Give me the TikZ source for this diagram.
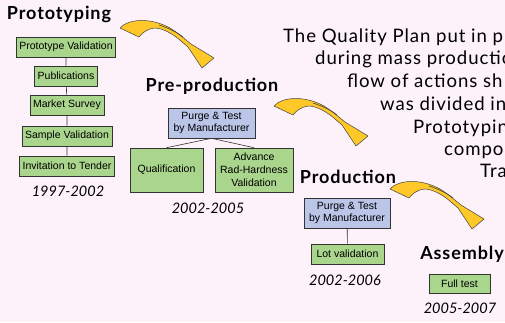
\documentclass[tikz,border=0pt]{standalone}
\usepackage{fontspec}
\setmainfont{Lato}
\newfontfamily\boxfont{Liberation Sans}
\newfontfamily\headfont[LetterSpace=5]{Lato}
\newfontfamily\notefont[LetterSpace=5]{Lato}
\usetikzlibrary{positioning}
\definecolor{pagecol}{RGB}{253,242,250}
\definecolor{stagecol}{RGB}{170,213,141}
\definecolor{makercol}{RGB}{186,197,232}
\definecolor{goldcol}{RGB}{253,200,40}

% bent yellow arrow between two phases, #1 = tail point
\newcommand{\phasearrow}[1]{%
  \begin{scope}[shift={#1}]
    \filldraw[fill=goldcol, draw=black!75, line width=0.5pt, line join=round]
      (0,0) .. controls (8,-9) and (30,-11) .. (50,0)
      .. controls (58,5) and (66,12) .. (71,16)
      -- (94,30) -- (82,40) -- (68,19) -- (61,13)
      .. controls (52,5) and (42,0) .. (34,0)
      .. controls (27,1) and (22,5) .. (19,9) -- cycle;
    \draw[black!75, line width=0.6pt] (39,-3) .. controls (48,0) and (57,4) .. (63,9);
  \end{scope}}

\begin{document}
\begin{tikzpicture}[
  x=1pt, y=-1pt,
  phase/.style={font=\headfont\bfseries\fontsize{18}{20}\selectfont, inner sep=0pt},
  stage/.style={draw=black!80, fill=stagecol, line width=0.6pt,
                font=\boxfont\fontsize{10.5}{12.5}\selectfont, align=center,
                inner xsep=3pt, inner ysep=0pt, minimum height=20pt},
  maker/.style={stage, fill=makercol},
  years/.style={font=\itshape\fontsize{14.5}{16}\selectfont, inner sep=0pt},
  link/.style={draw=black!80, line width=0.6pt},
  blurb/.style={font=\notefont\fontsize{18.6}{22}\selectfont, anchor=base west, inner sep=0pt}
]
  \fill[pagecol] (0,0) rectangle (505,322);
  \useasboundingbox (0,0) rectangle (505,322);
  \clip (0,0) rectangle (505,322);

  % Prototyping
  \node[phase] (proto) at (59,14) {Prototyping};
  \node[stage] (pval) at (66,47) {Prototype Validation};
  \node[stage] (publ) at (66,76) {Publications};
  \node[stage] (msur) at (67,105) {Market Survey};
  \node[stage] (sval) at (67,136) {Sample Validation};
  \node[stage] (itt) at (67,166) {Invitation to Tender};
  \node[years] (y1) at (68,191) {1997-2002};
  \draw[link] (pval) -- (publ) (publ) -- (msur) (msur) -- (sval) (sval) -- (itt);

  % Pre-production
  \node[phase] (prepro) at (212,86) {Pre-production};
  \node[maker, minimum width=87pt, minimum height=30pt] (ptpre) at (211.5,123)
    {Purge \& Test\\by Manufacturer};
  \node[stage, minimum width=73pt, minimum height=44pt] (qual) at (166.5,170) {Qualification};
  \node[stage, minimum width=78pt, minimum height=44pt, font=\boxfont\fontsize{10.5}{13}\selectfont] (radh) at (254,170)
    {Advance\\Rad-Hardness\\Validation};
  \node[years] (y2) at (208,208) {2002-2005};
  \draw[link] (ptpre.south) -- (qual.north) (ptpre.south) -- (radh.north);

  % Production
  \node[phase] (prod) at (348,177) {Production};
  \node[maker, minimum width=86pt, minimum height=30pt] (ptprod) at (347,213)
    {Purge \& Test\\by Manufacturer};
  \node[stage, minimum width=73pt] (lot) at (347.5,254) {Lot validation};
  \node[years] (y3) at (345,280) {2002-2006};
  \draw[link] (ptprod) -- (lot);

  % Assembly
  \node[phase] (assy) at (462,254) {Assembly};
  \node[stage, minimum width=61pt, minimum height=19pt] (full) at (459.5,283.5) {Full test};
  \node[years] (y4) at (460,308) {2005-2007};

  \phasearrow{(120,28)}
  \phasearrow{(274,106)}
  \phasearrow{(390,189)}

  % clipped note on the right
  \node[blurb] (l1) at (283,42) {The Quality Plan put in p};
  \node[blurb] (l2) at (315,64) {during mass productio};
  \node[blurb] (l3) at (347,87) {flow of actions sh};
  \node[blurb] (l4) at (380,110) {was divided in};
  \node[blurb] (l5) at (413,133) {Prototypin};
  \node[blurb] (l6) at (444,155) {compo};
  \node[blurb] (l7) at (480,177) {Tra};
\end{tikzpicture}
\end{document}
